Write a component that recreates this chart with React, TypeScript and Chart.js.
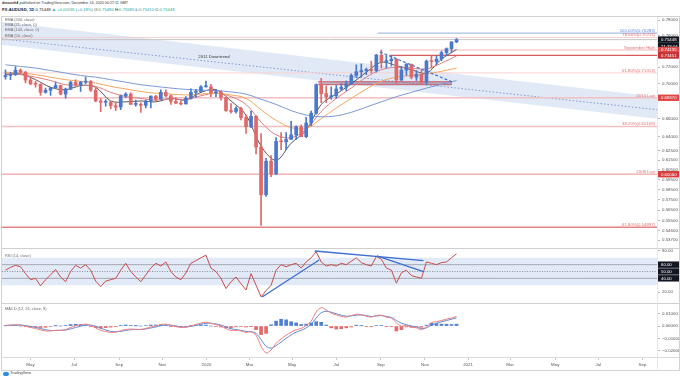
import React, { useEffect, useRef } from 'react';
import { Chart, registerables } from 'chart.js';

Chart.register(...registerables);

const FONT = '"Liberation Sans", Arial, sans-serif';
const X_MIN = -0.39;
const X_MAX = 130.3;
const BAR_OFFSET = 0.3;
const UP = '#4a78cc';
const DOWN = '#e06868';

// Weekly AUD/USD candles, week 0 = week of 25 Mar 2019
const firstOpen = 0.7085;
const closes = [
  0.7100, 0.7110, 0.7165, 0.7140, 0.7045, 0.7000, 0.6995, 0.6900, 0.6925, 0.6955,
  0.6980, 0.6880, 0.6940, 0.7020, 0.6990, 0.7020, 0.7030, 0.6925, 0.6800, 0.6785,
  0.6790, 0.6745, 0.6730, 0.6860, 0.6880, 0.6760, 0.6760, 0.6750, 0.6800, 0.6855,
  0.6820, 0.6900, 0.6860, 0.6795, 0.6775, 0.6765, 0.6830, 0.6900, 0.6910, 0.6965,
  0.6965, 0.6895, 0.6900, 0.6840, 0.6690, 0.6680, 0.6715, 0.6610, 0.6510, 0.6625,
  0.6290, 0.5800, 0.6140, 0.6010, 0.6350, 0.6345, 0.6370, 0.6420, 0.6510, 0.6400,
  0.6550, 0.6660, 0.6990, 0.6885, 0.6850, 0.6860, 0.6940, 0.6960, 0.7000, 0.7100,
  0.7145, 0.7160, 0.7165, 0.7160, 0.7350, 0.7270, 0.7280, 0.7300, 0.7045, 0.7165,
  0.7235, 0.7080, 0.7115, 0.7020, 0.7275, 0.7270, 0.7300, 0.7380, 0.7430, 0.7515,
  0.7545,
];
const highs = [
  0.7168, 0.7140, 0.7207, 0.7180, 0.7150, 0.7070, 0.7030, 0.7000, 0.6950, 0.6960,
  0.7020, 0.6985, 0.6950, 0.7030, 0.7050, 0.7030, 0.7082, 0.7040, 0.6950, 0.6830,
  0.6815, 0.6790, 0.6780, 0.6870, 0.6895, 0.6895, 0.6810, 0.6780, 0.6810, 0.6860,
  0.6865, 0.6930, 0.6930, 0.6870, 0.6840, 0.6800, 0.6850, 0.6940, 0.6935, 0.6980,
  0.7032, 0.6995, 0.6935, 0.6920, 0.6840, 0.6770, 0.6735, 0.6730, 0.6640, 0.6685,
  0.6635, 0.6435, 0.6170, 0.6200, 0.6390, 0.6445, 0.6445, 0.6570, 0.6520, 0.6530,
  0.6615, 0.6685, 0.7000, 0.7065, 0.6975, 0.6965, 0.6980, 0.7000, 0.7035, 0.7120,
  0.7230, 0.7240, 0.7190, 0.7275, 0.7360, 0.7414, 0.7345, 0.7345, 0.7305, 0.7210,
  0.7245, 0.7240, 0.7160, 0.7160, 0.7290, 0.7340, 0.7340, 0.7400, 0.7440, 0.7520,
  0.7559,
];
const lows = [
  0.7055, 0.7050, 0.7100, 0.7120, 0.7012, 0.6990, 0.6960, 0.6865, 0.6890, 0.6865,
  0.6950, 0.6870, 0.6832, 0.6930, 0.6960, 0.6910, 0.7000, 0.6910, 0.6790, 0.6677,
  0.6740, 0.6710, 0.6690, 0.6700, 0.6840, 0.6760, 0.6740, 0.6670, 0.6720, 0.6720,
  0.6800, 0.6820, 0.6850, 0.6760, 0.6770, 0.6755, 0.6765, 0.6820, 0.6840, 0.6900,
  0.6960, 0.6850, 0.6850, 0.6810, 0.6680, 0.6660, 0.6660, 0.6585, 0.6435, 0.6500,
  0.6215, 0.5506, 0.5785, 0.5980, 0.6005, 0.6260, 0.6260, 0.6380, 0.6370, 0.6400,
  0.6390, 0.6520, 0.6650, 0.6780, 0.6780, 0.6820, 0.6830, 0.6920, 0.6920, 0.6990,
  0.7075, 0.7080, 0.7110, 0.7130, 0.7140, 0.7190, 0.7190, 0.7215, 0.7006, 0.7040,
  0.7100, 0.7060, 0.7040, 0.6990, 0.6990, 0.7190, 0.7230, 0.7280, 0.7340, 0.7380,
  0.7506,
];

// EMAs sampled every 3 weeks
const emaWeeks = [0, 3, 6, 9, 12, 15, 18, 21, 24, 27, 30, 33, 36, 39, 42, 45, 48, 51, 54, 57, 60, 63, 66, 69, 72, 75, 78, 81, 84, 87, 90];
const ema200 = [0.7230, 0.7210, 0.7190, 0.7160, 0.7130, 0.7100, 0.7080, 0.7050, 0.7020, 0.6990, 0.6970, 0.6950, 0.6935, 0.6925, 0.6920, 0.6905, 0.6880, 0.6820, 0.6760, 0.6690, 0.6640, 0.6620, 0.6630, 0.6670, 0.6730, 0.6790, 0.6850, 0.6900, 0.6950, 0.6995, 0.7040];
const ema100 = [0.7140, 0.7130, 0.7110, 0.7080, 0.7050, 0.7030, 0.7010, 0.6970, 0.6940, 0.6910, 0.6890, 0.6880, 0.6870, 0.6880, 0.6890, 0.6870, 0.6830, 0.6700, 0.6580, 0.6500, 0.6490, 0.6600, 0.6720, 0.6830, 0.6940, 0.7030, 0.7080, 0.7100, 0.7120, 0.7150, 0.7190];
const ema50 = [0.7120, 0.7110, 0.7080, 0.7040, 0.6990, 0.6985, 0.6970, 0.6900, 0.6850, 0.6830, 0.6810, 0.6825, 0.6820, 0.6860, 0.6890, 0.6850, 0.6760, 0.6560, 0.6420, 0.6390, 0.6480, 0.6680, 0.6830, 0.6950, 0.7080, 0.7170, 0.7200, 0.7190, 0.7180, 0.7250, 0.7340];
const ema21 = [0.7110, 0.7120, 0.7050, 0.6960, 0.6930, 0.6980, 0.6960, 0.6800, 0.6790, 0.6800, 0.6790, 0.6830, 0.6810, 0.6900, 0.6930, 0.6800, 0.6640, 0.6300, 0.6150, 0.6330, 0.6470, 0.6760, 0.6880, 0.7000, 0.7140, 0.7260, 0.7220, 0.7170, 0.7130, 0.7300, 0.7420];

// RSI (14) weekly samples
const rsi = [
  52, 56, 59, 57, 47, 38, 40, 29, 38, 45,
  53, 42, 35, 50, 59, 55, 60, 52, 36, 28,
  36, 38, 40, 52, 62, 50, 42, 35, 45, 55,
  62, 58, 64, 50, 42, 38, 48, 62, 66, 70,
  74, 55, 50, 40, 25, 35, 42, 32, 23, 47,
  30, 13, 22, 30, 52, 60, 57, 60, 62, 55,
  64, 70, 79, 64, 58, 60, 58, 62, 60, 65,
  70, 63, 60, 58, 72, 68, 55, 52, 33, 48,
  52, 44, 42, 40, 64, 62, 60, 63, 64, 70,
  76,
];

// MACD (12, 26, 9) weekly samples
const macdLine = [
  0.0005, 0.0008, 0.0010, 0.0008, -0.0002, -0.0012, -0.0020, -0.0032, -0.0040, -0.0040,
  -0.0035, -0.0035, -0.0030, -0.0012, 0.0002, 0.0010, 0.0015, 0.0005, -0.0015, -0.0035,
  -0.0045, -0.0052, -0.0050, -0.0038, -0.0028, -0.0025, -0.0027, -0.0028, -0.0020, -0.0008,
  0.0000, 0.0012, 0.0015, 0.0005, -0.0005, -0.0012, -0.0010, 0.0002, 0.0012, 0.0025,
  0.0030, 0.0022, 0.0012, 0.0000, -0.0022, -0.0035, -0.0035, -0.0040, -0.0052, -0.0048,
  -0.0075, -0.0165, -0.0220, -0.0195, -0.0140, -0.0105, -0.0075, -0.0050, -0.0030, -0.0020,
  0.0005, 0.0040, 0.0115, 0.0150, 0.0130, 0.0105, 0.0090, 0.0078, 0.0072, 0.0085,
  0.0095, 0.0092, 0.0080, 0.0072, 0.0085, 0.0088, 0.0072, 0.0065, 0.0025, 0.0000,
  0.0005, -0.0010, -0.0015, -0.0030, -0.0008, 0.0028, 0.0035, 0.0045, 0.0055, 0.0065,
  0.0078,
];
const signalLine = [
  0.0002, 0.0005, 0.0007, 0.0008, 0.0004, -0.0003, -0.0011, -0.0020, -0.0030, -0.0036,
  -0.0036, -0.0035, -0.0033, -0.0024, -0.0012, -0.0002, 0.0008, 0.0008, -0.0002, -0.0018,
  -0.0032, -0.0043, -0.0047, -0.0043, -0.0036, -0.0030, -0.0028, -0.0028, -0.0024, -0.0016,
  -0.0008, 0.0002, 0.0009, 0.0007, 0.0001, -0.0006, -0.0008, -0.0003, 0.0005, 0.0015,
  0.0022, 0.0022, 0.0017, 0.0008, -0.0008, -0.0022, -0.0029, -0.0035, -0.0044, -0.0046,
  -0.0060, -0.0110, -0.0165, -0.0180, -0.0160, -0.0130, -0.0100, -0.0072, -0.0050, -0.0035,
  -0.0015, 0.0015, 0.0065, 0.0108, 0.0120, 0.0112, 0.0100, 0.0088, 0.0080, 0.0082,
  0.0088, 0.0090, 0.0085, 0.0078, 0.0081, 0.0085, 0.0078, 0.0070, 0.0045, 0.0022,
  0.0012, 0.0000, -0.0008, -0.0020, -0.0015, 0.0008, 0.0022, 0.0034, 0.0045, 0.0055,
  0.0066,
];
const macdHist = [
  0.0003, 0.0003, 0.0003, 0.0000, -0.0006, -0.0009, -0.0009, -0.0012, -0.0010, -0.0004,
  0.0001, 0.0000, 0.0003, 0.0012, 0.0014, 0.0012, 0.0007, -0.0003, -0.0013, -0.0017,
  -0.0013, -0.0009, -0.0003, 0.0005, 0.0008, 0.0005, 0.0001, 0.0000, 0.0004, 0.0008,
  0.0008, 0.0010, 0.0006, -0.0002, -0.0006, -0.0006, -0.0002, 0.0005, 0.0007, 0.0010,
  0.0008, 0.0000, -0.0005, -0.0008, -0.0014, -0.0013, -0.0006, -0.0005, -0.0008, -0.0002,
  -0.0030, -0.0070, -0.0060, 0.0010, 0.0040, 0.0055, 0.0050, 0.0035, 0.0025, 0.0012,
  0.0015, 0.0025, 0.0035, 0.0030, 0.0008, -0.0015, -0.0025, -0.0022, -0.0015, -0.0008,
  0.0007, 0.0002, -0.0005, -0.0006, 0.0004, 0.0003, -0.0006, -0.0005, -0.0040, -0.0030,
  -0.0007, -0.0010, -0.0007, -0.0010, 0.0007, 0.0022, 0.0020, 0.0015, 0.0015, 0.0012,
  0.0015,
];

// axis ticks
const monthTickPos = [5.3, 14.0, 23.0, 31.6, 40.4, 49.0, 57.5, 66.3, 75.2, 84.0, 92.6, 101.0, 110.0, 118.6, 127.4];
const monthTickLabels = ['May', 'Jul', 'Sep', 'Nov', '2020', 'Mar', 'May', 'Jul', 'Sep', 'Nov', '2021', 'Mar', 'May', 'Jul', 'Sep'];
const priceTicks = [0.78, 0.76, 0.72, 0.70, 0.66, 0.64, 0.625, 0.615, 0.605, 0.595, 0.585, 0.575, 0.565, 0.555, 0.546, 0.537];
const rsiTicks = [20, 80];
const rsiLevelBoxes = [60, 50, 40];
const macdTicks = [0.01, 0, -0.01, -0.02];

// drawings on the price pane
const channelUpper = [0.7774, 0.6849];
const channelLower = [0.7477, 0.6599];
const downtrendLine = [0.7554, 0.6700];
const downtrendTextX = 41.9;
const downtrendTextPrice = 0.7327;

const levelPrices = [0.76283, 0.75711, 0.75448, 0.74135, 0.73451, 0.71313, 0.68370, 0.65108, 0.60060, 0.54897];
const levelStarts = [74.6, X_MIN, X_MIN, 77.0, 77.0, X_MIN, X_MIN, X_MIN, X_MIN, X_MIN];
const levelColors = ['#a9bfe6', '#f4d0d0', '#c4c4c4', '#f1b3b3', '#d65a5a', '#f6d2d2', '#f2c0c0', '#f2c0c0', '#f0b4b4', '#e58282'];
const levelWidths = [1.2, 1, 1, 1.2, 1.3, 1, 1.5, 1.5, 1.5, 1.3];

const levelTexts = ['100.00%(0.76283)', '78.60%(0.75711)', 'September High', '61.80%(0.71313)', '2014 Low', '38.20%(0.65108)', '2008 Low', '61.80%(0.54897)'];
const levelTextPrices = [0.76283, 0.75711, 0.74135, 0.71313, 0.68370, 0.65108, 0.60060, 0.54897];
const levelTextColors = ['#5f86d6', '#e07070', '#e07070', '#e07070', '#e07070', '#e07070', '#e07070', '#e07070'];

const axisBoxPrices = [0.75448, 0.74135, 0.73451, 0.68370, 0.60060];
const axisBoxColors = ['#131722', '#e04848', '#c23434', '#e04848', '#d83c3c'];
const countdownText = '21:33:04';

const zoneRange = [62.7, 89.4];
const zonePrices = [0.6990, 0.7025];
const trendX = [75.0, 89.4];
const trendPrices = [0.7390, 0.7024];

const rsiTrendX = [[51.5, 62.9], [62.0, 83.7], [74.4, 83.7]];
const rsiTrendY = [[12.7, 66.8], [80.0, 65.8], [72.7, 49.7]];

const seg = (x0: number, x1: number, y0: number, y1: number) => [
  { x: x0, y: y0 },
  { x: x1, y: y1 },
];

const lineDs = (data: any[], color: string, width: number, extra: any = {}) => ({
  type: 'line',
  data,
  borderColor: color,
  borderWidth: width,
  pointRadius: 0,
  fill: false,
  tension: 0,
  ...extra,
});

const tickFont = { family: FONT, size: 4.4 };

const yAxis = (ticksArr: number[], digits: number, extra: any = {}) => ({
  position: 'right',
  beginAtZero: false,
  grid: { drawOnChartArea: false, drawTicks: true, tickLength: 3, color: '#b8b8b8' },
  border: { display: false },
  ticks: {
    font: tickFont,
    color: '#555',
    padding: 2,
    autoSkip: false,
    callback: (v: any) => Number(v).toFixed(digits).replace('-', '\u2212'),
  },
  afterBuildTicks: (axis: any) => {
    axis.ticks = ticksArr.map((v) => ({ value: v }));
  },
  afterFit: (axis: any) => {
    axis.width = 23;
  },
  ...extra,
});

const hiddenX = {
  type: 'linear',
  min: X_MIN,
  max: X_MAX,
  display: false,
  offset: false,
  grid: { offset: false },
};

function drawBox(ctx: CanvasRenderingContext2D, x0: number, x1: number, yc: number, bg: string, text: string) {
  const h = 6.4;
  ctx.fillStyle = bg;
  ctx.fillRect(x0, yc - h / 2, x1 - x0, h);
  ctx.fillStyle = '#ffffff';
  ctx.textAlign = 'left';
  ctx.textBaseline = 'middle';
  ctx.fillText(text, x0 + 3, yc + 0.3);
}

const mainOverlay = {
  id: 'mainOverlay',
  afterDatasetsDraw(chart: any) {
    const { ctx, chartArea, scales } = chart;
    const ys = scales.y;
    const xs = scales.x;
    ctx.save();
    ctx.font = `4.3px ${FONT}`;
    ctx.textAlign = 'right';
    ctx.textBaseline = 'alphabetic';
    levelTexts.forEach((t, i) => {
      ctx.fillStyle = levelTextColors[i];
      ctx.fillText(t, chartArea.right - 2, ys.getPixelForValue(levelTextPrices[i]) - 1.2);
    });
    ctx.textAlign = 'center';
    ctx.textBaseline = 'middle';
    ctx.fillStyle = '#333';
    ctx.fillText('2011 Downtrend', xs.getPixelForValue(downtrendTextX), ys.getPixelForValue(downtrendTextPrice));
    ctx.restore();
  },
  afterDraw(chart: any) {
    const { ctx, chartArea, scales, width } = chart;
    const ys = scales.y;
    ctx.save();
    ctx.font = `4.3px ${FONT}`;
    axisBoxPrices.forEach((p, i) => {
      const yc = ys.getPixelForValue(p);
      drawBox(ctx, chartArea.right + 1, width - 1, yc, axisBoxColors[i], p.toFixed(5));
      if (i === 0) drawBox(ctx, chartArea.right + 1, width - 1, yc + 6.4, axisBoxColors[0], countdownText);
    });
    ctx.restore();
  },
};

const rsiOverlay = {
  id: 'rsiOverlay',
  afterDraw(chart: any) {
    const { ctx, chartArea, scales, width } = chart;
    ctx.save();
    ctx.font = `4.3px ${FONT}`;
    rsiLevelBoxes.forEach((v) => {
      drawBox(ctx, chartArea.right + 1, width - 1, scales.y.getPixelForValue(v), '#131722', v.toFixed(2));
    });
    ctx.restore();
  },
};

const baseOptions = {
  responsive: false,
  maintainAspectRatio: false,
  animation: false,
  devicePixelRatio: 1,
  events: [],
  plugins: { legend: { display: false }, tooltip: { enabled: false } },
};

function buildMain() {
  const cx = closes.map((_, i) => i + BAR_OFFSET);
  const opens = closes.map((c, i) => (i === 0 ? firstOpen : closes[i - 1]));
  const colors = closes.map((c, i) => (c >= opens[i] ? UP : DOWN));
  const ex = emaWeeks.map((w) => w + BAR_OFFSET);
  const pts = (ys: number[]) => ex.map((x, i) => ({ x, y: ys[i] }));
  const datasets: any[] = [
    lineDs(seg(X_MIN, X_MAX, channelLower[0], channelLower[1]), 'rgba(0,0,0,0)', 0, { order: 30 }),
    lineDs(seg(X_MIN, X_MAX, channelUpper[0], channelUpper[1]), 'rgba(0,0,0,0)', 0, {
      order: 30,
      fill: '-1',
      backgroundColor: 'rgba(188,206,238,0.45)',
    }),
    lineDs(seg(X_MIN, X_MAX, downtrendLine[0], downtrendLine[1]), '#7e9ad4', 1, { order: 25, borderDash: [1.5, 2] }),
    ...levelPrices.map((p, i) => lineDs(seg(levelStarts[i], X_MAX, p, p), levelColors[i], levelWidths[i], { order: 20 })),
    lineDs(seg(zoneRange[0], zoneRange[1], zonePrices[0], zonePrices[0]), '#c4606a', 1, { order: 18 }),
    lineDs(seg(zoneRange[0], zoneRange[1], zonePrices[1], zonePrices[1]), '#c4606a', 1, {
      order: 18,
      fill: '-1',
      backgroundColor: 'rgba(150,105,140,0.55)',
    }),
    lineDs(pts(ema200), '#7b98d6', 1, { order: 10, tension: 0.35 }),
    lineDs(pts(ema100), '#f5a55e', 1, { order: 10, tension: 0.35 }),
    lineDs(pts(ema50), '#e27d7d', 1, { order: 10, tension: 0.35 }),
    lineDs(pts(ema21), '#555555', 1, { order: 10, tension: 0.35 }),
    {
      type: 'bar',
      data: cx.map((x, i) => ({ x, y: [lows[i], highs[i]] })),
      backgroundColor: colors,
      barThickness: 1,
      grouped: false,
      order: 6,
    },
    {
      type: 'bar',
      data: cx.map((x, i) => ({ x, y: [opens[i], closes[i]] })),
      backgroundColor: colors,
      barThickness: 3,
      minBarLength: 1,
      grouped: false,
      order: 5,
    },
    lineDs(seg(trendX[0], trendX[1], trendPrices[0], trendPrices[1]), '#3f6fd0', 1.2, { order: 2, borderDash: [3, 2] }),
  ];
  return {
    type: 'bar',
    data: { datasets },
    options: {
      ...baseOptions,
      layout: { padding: { left: 2, right: 0, top: 17, bottom: 131 } },
      scales: {
        x: hiddenX,
        y: yAxis(priceTicks, 5, { type: 'logarithmic', min: 0.5307, max: 0.784 }),
      },
    },
    plugins: [mainOverlay],
  };
}

function buildRsi() {
  const cx = rsi.map((_, i) => i + BAR_OFFSET);
  const datasets: any[] = [
    lineDs(seg(X_MIN, X_MAX, 30, 30), 'rgba(0,0,0,0)', 0, { order: 30 }),
    lineDs(seg(X_MIN, X_MAX, 70, 70), 'rgba(0,0,0,0)', 0, {
      order: 30,
      fill: '-1',
      backgroundColor: 'rgba(200,214,240,0.5)',
    }),
    lineDs(seg(X_MIN, X_MAX, 60, 60), '#a3a8b0', 1, { order: 20 }),
    lineDs(seg(X_MIN, X_MAX, 40, 40), '#a3a8b0', 1, { order: 20 }),
    lineDs(seg(X_MIN, X_MAX, 50, 50), '#8a8f99', 1, { order: 20, borderDash: [1, 1.5] }),
    lineDs(cx.map((x, i) => ({ x, y: rsi[i] })), '#c84c4c', 1, { order: 5 }),
    ...rsiTrendX.map((xs, i) => lineDs(seg(xs[0], xs[1], rsiTrendY[i][0], rsiTrendY[i][1]), '#3d6fd0', 1.3, { order: 2 })),
  ];
  return {
    type: 'line',
    data: { datasets },
    options: {
      ...baseOptions,
      layout: { padding: { left: 2, right: 0, top: 249, bottom: 77 } },
      scales: {
        x: hiddenX,
        y: yAxis(rsiTicks, 2, { type: 'linear', min: 5.4, max: 82.9 }),
      },
    },
    plugins: [rsiOverlay],
  };
}

function buildMacd() {
  const cx = macdLine.map((_, i) => i + BAR_OFFSET);
  const datasets: any[] = [
    {
      type: 'bar',
      data: cx.map((x, i) => ({ x, y: macdHist[i] })),
      backgroundColor: macdHist.map((v) => (v >= 0 ? '#4f7fd0' : '#e26a6a')),
      barThickness: 3,
      grouped: false,
      order: 10,
    },
    lineDs(cx.map((x, i) => ({ x, y: signalLine[i] })), '#5b8ad9', 1, { order: 4, tension: 0.3 }),
    lineDs(cx.map((x, i) => ({ x, y: macdLine[i] })), '#ee7d7d', 1, { order: 3, tension: 0.3 }),
  ];
  return {
    type: 'bar',
    data: { datasets },
    options: {
      ...baseOptions,
      layout: { padding: { left: 2, right: 0, top: 304, bottom: 0 } },
      scales: {
        x: {
          type: 'linear',
          position: 'bottom',
          min: X_MIN,
          max: X_MAX,
          offset: false,
          grid: { offset: false, drawOnChartArea: false, drawTicks: true, tickLength: 3, color: '#c8c8c8' },
          border: { display: false },
          ticks: {
            font: tickFont,
            color: '#555',
            padding: 2,
            autoSkip: false,
            maxRotation: 0,
            callback: (_v: any, i: number) => monthTickLabels[i],
          },
          afterBuildTicks: (axis: any) => {
            axis.ticks = monthTickPos.map((v) => ({ value: v }));
          },
          afterFit: (axis: any) => {
            axis.height = 22;
          },
        },
        y: yAxis(macdTicks, 5, { type: 'linear', min: -0.0252, max: 0.0179 }),
      },
    },
  };
}

const abs = (extra: any) => ({ position: 'absolute', whiteSpace: 'nowrap', lineHeight: 1, ...extra });

export default function App() {
  const mainRef = useRef<HTMLCanvasElement | null>(null);
  const rsiRef = useRef<HTMLCanvasElement | null>(null);
  const macdRef = useRef<HTMLCanvasElement | null>(null);

  useEffect(() => {
    const charts: any[] = [];
    if (mainRef.current) charts.push(new Chart(mainRef.current, buildMain() as any));
    if (rsiRef.current) charts.push(new Chart(rsiRef.current, buildRsi() as any));
    if (macdRef.current) charts.push(new Chart(macdRef.current, buildMacd() as any));
    return () => charts.forEach((c) => c.destroy());
  }, []);

  const canvasStyle: any = { position: 'absolute', left: 0, top: 0, width: 680, height: 379 };
  const teal = '#26a69a';
  const legendStyle = { fontSize: 3.9, color: '#6a6a6a' };

  return (
    <div
      style={{
        position: 'absolute',
        left: 0,
        top: 0,
        width: 680,
        height: 379,
        background: '#ffffff',
        overflow: 'hidden',
        fontFamily: FONT,
      }}
    >
      <div style={abs({ left: 2, top: 1.5, fontSize: 3.7, color: '#333' })}>
        <b>dmoush4</b> published on TradingView.com, December 14, 2020 00:27:11 GMT
      </div>
      <div style={abs({ left: 2, top: 7.5, fontSize: 4.2, color: '#222' })}>
        <b>FX:AUDUSD, 1D</b> 0.75448 <span style={{ color: teal }}>▲ +0.00135 (+0.18%)</span> O:
        <span style={{ color: teal }}>0.75480</span> H:<span style={{ color: teal }}>0.75585</span> L:
        <span style={{ color: teal }}>0.75410</span> C:<span style={{ color: teal }}>0.75448</span>
      </div>

      <canvas ref={mainRef} width={680} height={379} style={canvasStyle} />
      <canvas ref={rsiRef} width={680} height={379} style={canvasStyle} />
      <canvas ref={macdRef} width={680} height={379} style={canvasStyle} />

      <div style={abs({ left: 5, top: 17.5, ...legendStyle })}>EMA (200, close)</div>
      <div style={abs({ left: 5, top: 23, ...legendStyle })}>EMA (21, close, 0)</div>
      <div style={abs({ left: 5, top: 28, ...legendStyle })}>EMA (100, close, 0)</div>
      <div style={abs({ left: 5, top: 33.5, ...legendStyle })}>EMA (50, close)</div>
      <div style={abs({ left: 5, top: 254, ...legendStyle })}>RSI (14, close)</div>
      <div style={abs({ left: 5, top: 306.5, ...legendStyle })}>MACD (12, 26, close, 9)</div>

      <div style={{ position: 'absolute', left: 1, top: 16, width: 677, height: 353, border: '1px solid #d2d2d2', pointerEvents: 'none' }} />
      <div style={{ position: 'absolute', left: 1, top: 248, width: 678, height: 1, background: '#cfcfcf' }} />
      <div style={{ position: 'absolute', left: 1, top: 303, width: 678, height: 1, background: '#cfcfcf' }} />
      <div style={{ position: 'absolute', left: 1, top: 357, width: 678, height: 1, background: '#dadada' }} />
      <div style={{ position: 'absolute', left: 657, top: 17, width: 1, height: 352, background: '#e6e6e6' }} />

      <div style={{ position: 'absolute', left: 3, top: 371.5, width: 6, height: 4, background: '#2a8be8', borderRadius: 2 }} />
      <div style={abs({ left: 10, top: 371.5, fontSize: 3.8, color: '#444' })}>TradingView</div>
    </div>
  );
}
